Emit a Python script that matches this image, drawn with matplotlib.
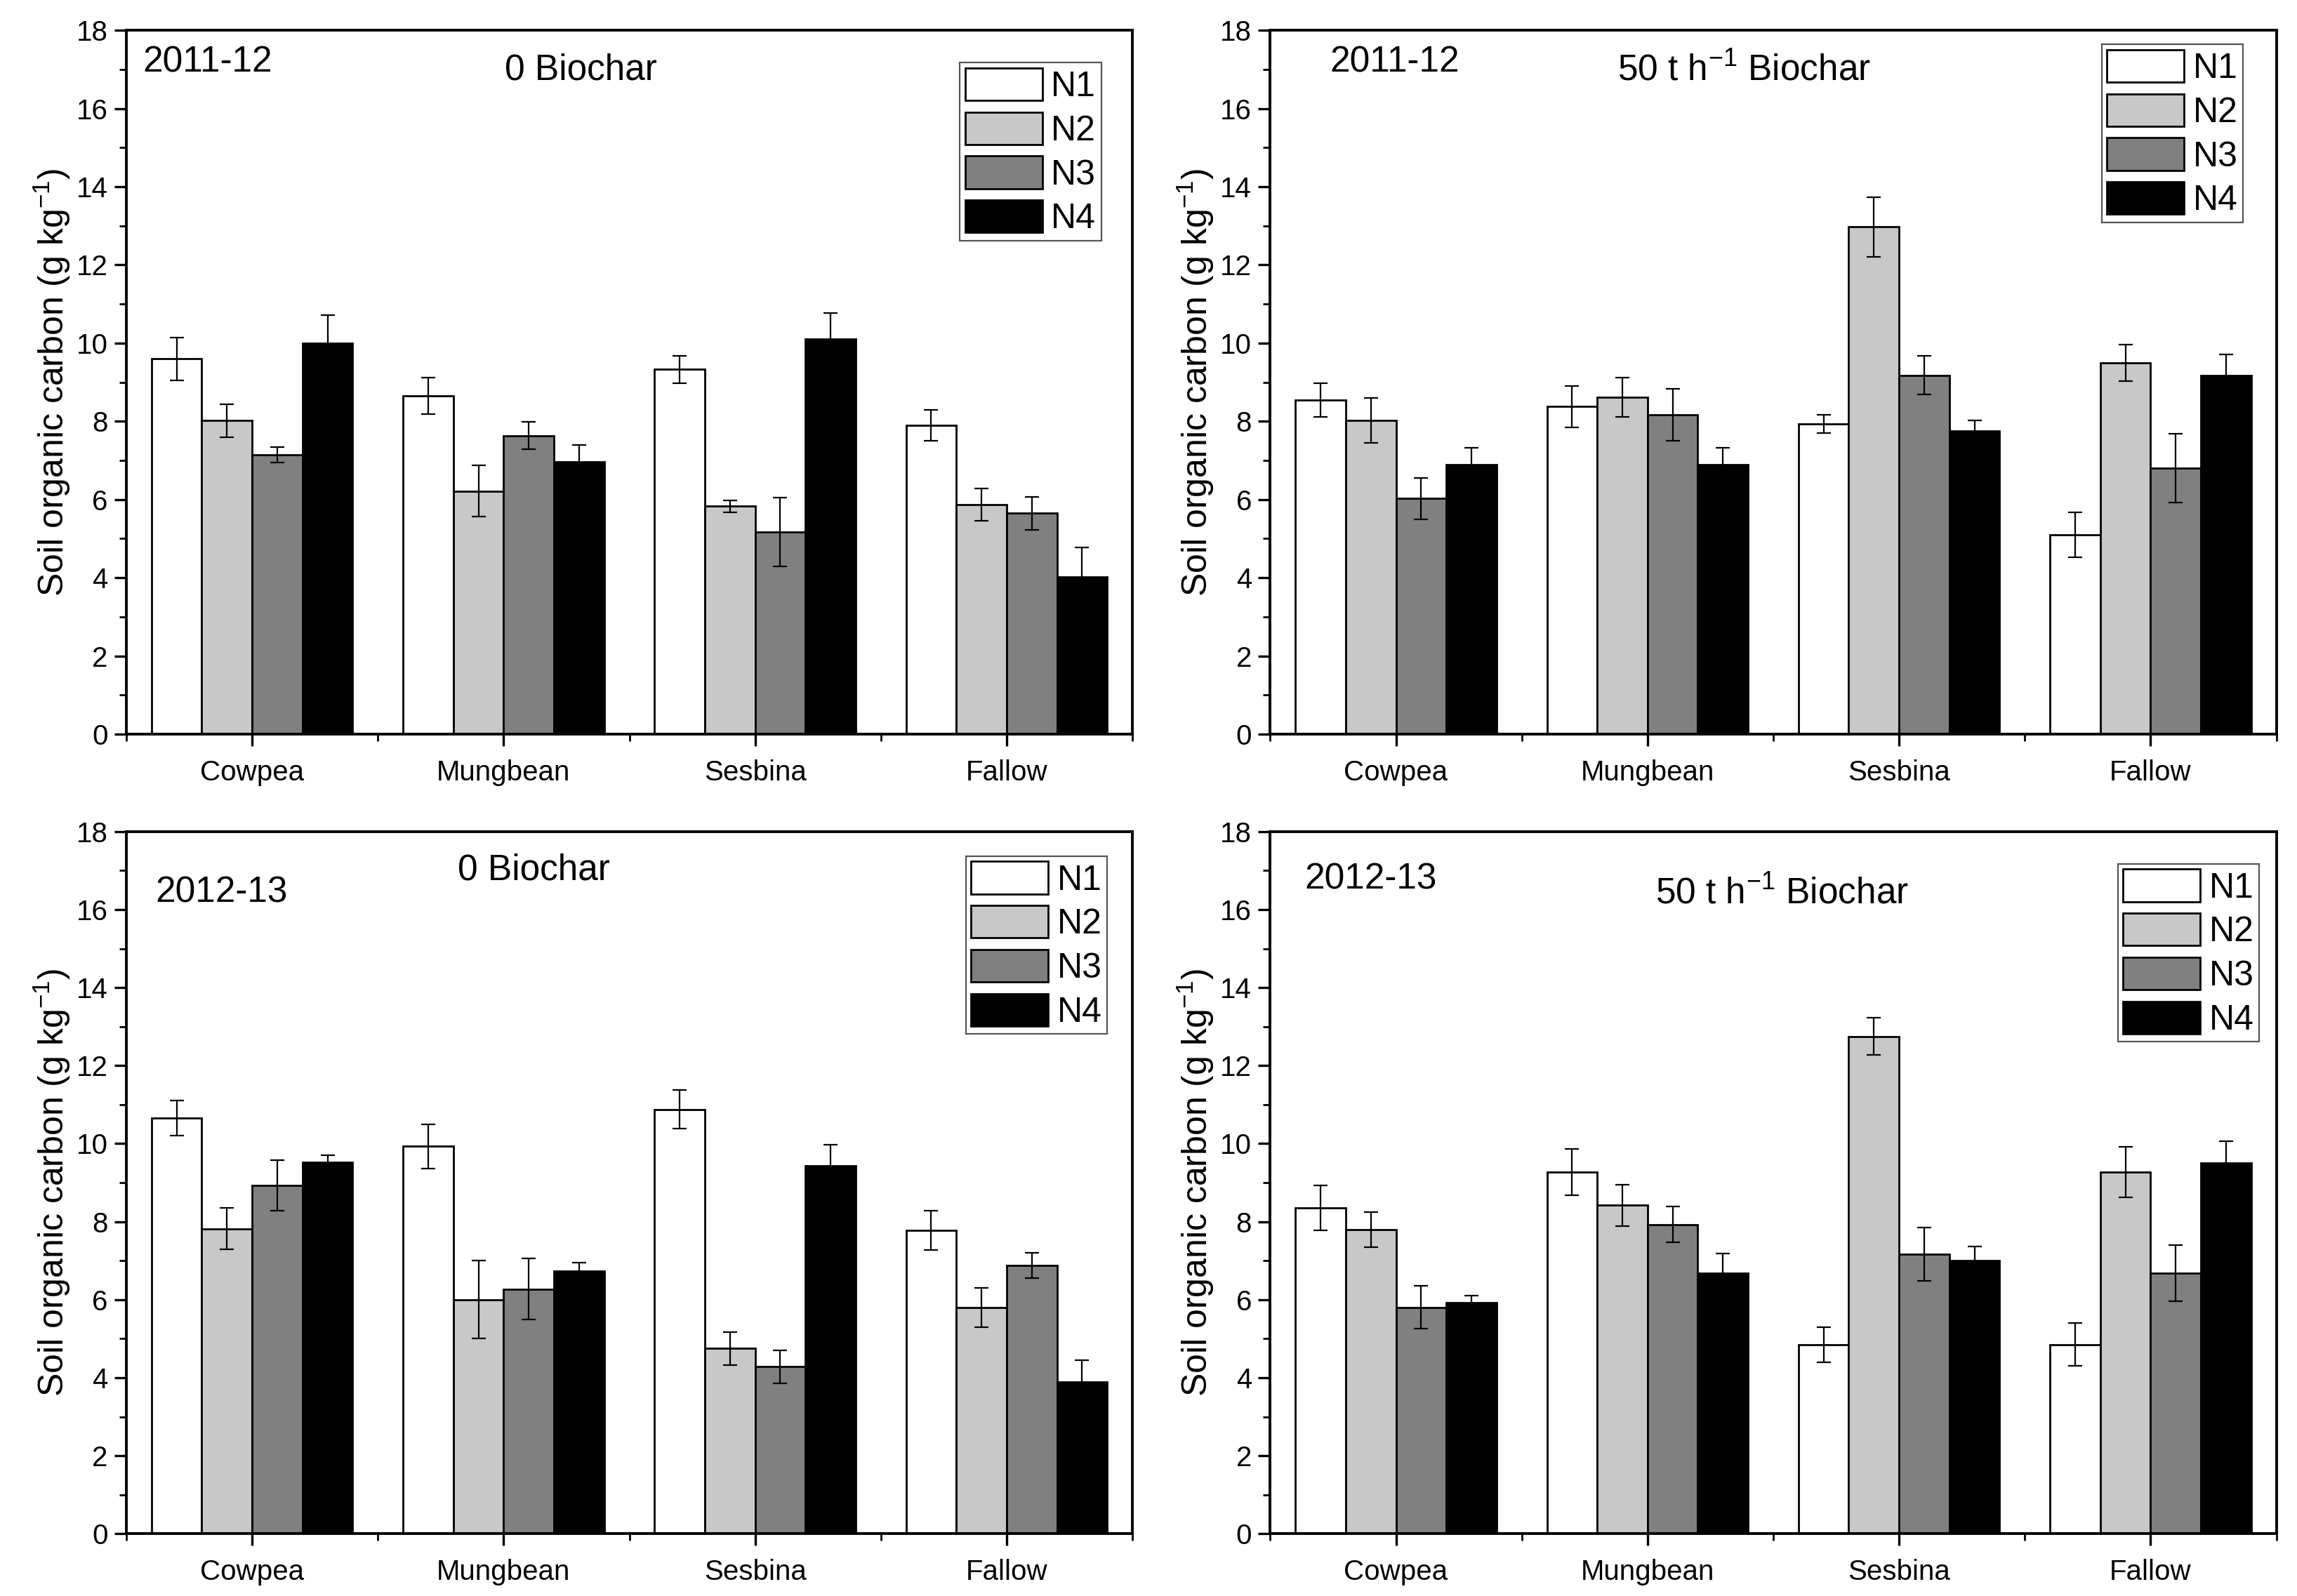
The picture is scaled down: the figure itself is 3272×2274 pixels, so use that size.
import numpy as np
import matplotlib
matplotlib.use('Agg')
import matplotlib.pyplot as plt
from matplotlib.ticker import MultipleLocator, FixedLocator

plt.rcParams['font.family'] = ['Liberation Sans', 'DejaVu Sans']
plt.rcParams['mathtext.fontset'] = 'custom'
plt.rcParams['mathtext.rm'] = 'Liberation Sans'
plt.rcParams['mathtext.it'] = 'Liberation Sans'

crops = ['Cowpea', 'Mungbean', 'Sesbina', 'Fallow']
levels = ['N1', 'N2', 'N3', 'N4']
colors = ['white', '#c8c8c8', '#808080', 'black']

# soil organic carbon, rows = crops, cols = N1..N4
soc_1112_b0 = [[9.60, 8.02, 7.15, 10.00],
               [8.65, 6.22, 7.63, 6.97],
               [9.33, 5.83, 5.17, 10.10],
               [7.90, 5.87, 5.65, 4.03]]
err_1112_b0 = [[0.55, 0.42, 0.20, 0.72],
               [0.47, 0.65, 0.35, 0.42],
               [0.35, 0.15, 0.88, 0.67],
               [0.40, 0.42, 0.42, 0.75]]

soc_1112_b50 = [[8.55, 8.02, 6.03, 6.90],
                [8.38, 8.62, 8.17, 6.90],
                [7.93, 12.97, 9.18, 7.75],
                [5.10, 9.50, 6.80, 9.18]]
err_1112_b50 = [[0.43, 0.57, 0.53, 0.43],
                [0.53, 0.50, 0.67, 0.43],
                [0.23, 0.77, 0.50, 0.27],
                [0.57, 0.47, 0.88, 0.53]]

soc_1213_b0 = [[10.65, 7.82, 8.93, 9.53],
               [9.93, 6.00, 6.27, 6.73],
               [10.88, 4.75, 4.28, 9.43],
               [7.78, 5.80, 6.88, 3.90]]
err_1213_b0 = [[0.45, 0.53, 0.65, 0.18],
               [0.57, 1.00, 0.78, 0.22],
               [0.50, 0.42, 0.43, 0.55],
               [0.50, 0.50, 0.33, 0.55]]

soc_1213_b50 = [[8.35, 7.80, 5.80, 5.92],
                [9.27, 8.42, 7.93, 6.68],
                [4.85, 12.75, 7.17, 7.00],
                [4.85, 9.27, 6.68, 9.50]]
err_1213_b50 = [[0.57, 0.45, 0.55, 0.18],
                [0.60, 0.53, 0.45, 0.50],
                [0.45, 0.48, 0.68, 0.37],
                [0.55, 0.65, 0.72, 0.57]]

panels = [
    # data, err, year, treatment, axes rect, year pos, treat pos, legend anchor
    (soc_1112_b0, err_1112_b0, '2011-12', '0 Biochar',
     [0.055, 0.540, 0.438, 0.441], (0.016, 0.954), (0.452, 0.943), (0.969, 0.954)),
    (soc_1112_b50, err_1112_b50, '2011-12', '50 t h$^{-1}$ Biochar',
     [0.553, 0.540, 0.438, 0.441], (0.059, 0.954), (0.471, 0.943), (0.967, 0.980)),
    (soc_1213_b0, err_1213_b0, '2012-13', '0 Biochar',
     [0.055, 0.039, 0.438, 0.440], (0.029, 0.913), (0.405, 0.945), (0.975, 0.965)),
    (soc_1213_b50, err_1213_b50, '2012-13', '50 t h$^{-1}$ Biochar',
     [0.553, 0.039, 0.438, 0.440], (0.034, 0.932), (0.509, 0.911), (0.983, 0.954)),
]

fig = plt.figure(figsize=(16.36, 11.37), dpi=200)

x = np.arange(1, len(crops) + 1)
w = 0.2

for data, err, year, treat, rect, ypos, tpos, lpos in panels:
    ax = fig.add_axes(rect)
    data = np.array(data)
    err = np.array(err)
    for j, lev in enumerate(levels):
        ax.bar(x + (j - 1.5) * w, data[:, j], w, color=colors[j], edgecolor='black',
               linewidth=1.0, label=lev, zorder=2)
        ax.errorbar(x + (j - 1.5) * w, data[:, j], yerr=err[:, j], fmt='none',
                    ecolor='black', elinewidth=0.8, capsize=3.5, capthick=0.8, zorder=3)

    ax.set_xlim(0.5, 4.5)
    ax.set_ylim(0, 18)
    ax.set_xticks(x)
    ax.set_xticklabels(crops, fontsize=14.5)
    ax.xaxis.set_minor_locator(FixedLocator([0.5, 1.5, 2.5, 3.5, 4.5]))
    ax.yaxis.set_major_locator(MultipleLocator(2))
    ax.yaxis.set_minor_locator(MultipleLocator(1))
    ax.tick_params(axis='both', which='major', direction='out', length=6, width=1.2,
                   labelsize=14.5, top=False, right=False)
    ax.tick_params(axis='both', which='minor', direction='out', length=3.5, width=1.0,
                   top=False, right=False)
    ax.tick_params(axis='x', which='major', pad=7)
    for s in ax.spines.values():
        s.set_linewidth(1.4)
    ax.set_ylabel('Soil organic carbon (g kg$^{-1}$)', fontsize=18, labelpad=2)

    ax.text(ypos[0], ypos[1], year, transform=ax.transAxes, fontsize=18.5,
            ha='left', va='center')
    ax.text(tpos[0], tpos[1], treat, transform=ax.transAxes, fontsize=18.5,
            ha='center', va='center')

    leg = ax.legend(loc='upper right', bbox_to_anchor=lpos, fontsize=18,
                    fancybox=False, edgecolor='#555555', framealpha=1,
                    handlelength=2.2, handleheight=1.05, handletextpad=0.25,
                    labelspacing=0.25, borderpad=0.15, borderaxespad=0)
    leg.get_frame().set_linewidth(0.8)

fig.savefig('out.png', dpi=200)
